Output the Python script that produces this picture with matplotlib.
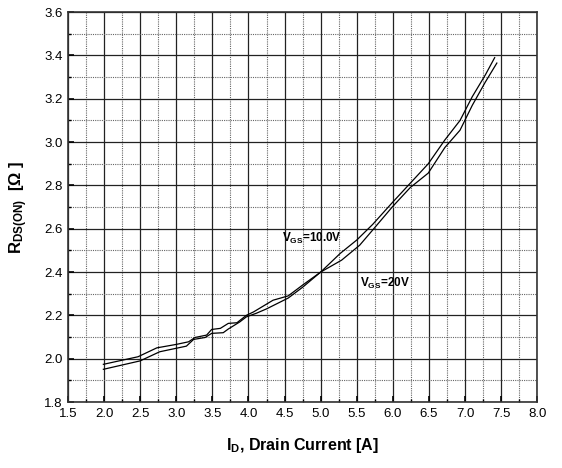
import numpy as np
import matplotlib
matplotlib.use("Agg")
import matplotlib.pyplot as plt
from matplotlib.ticker import MultipleLocator, FormatStrFormatter

plt.rcParams["font.family"] = ["Liberation Sans", "DejaVu Sans"]
plt.rcParams["mathtext.fontset"] = "custom"
plt.rcParams["mathtext.rm"] = "Liberation Sans:bold"
plt.rcParams["mathtext.it"] = "Liberation Sans:bold"

# drain current [A] and on-resistance [ohm]
id_10v = [1.99, 2.47, 2.73, 3.00, 3.17, 3.26, 3.42, 3.49, 3.61, 3.72, 3.84, 3.97, 4.07,
          4.34, 4.55, 4.75, 5.00, 5.27, 5.50, 5.72, 5.99, 6.24, 6.49, 6.72, 6.93, 7.10,
          7.28, 7.41]
rds_10v = [1.974, 2.009, 2.050, 2.066, 2.078, 2.098, 2.109, 2.135, 2.140, 2.163, 2.166,
           2.200, 2.216, 2.270, 2.290, 2.340, 2.400, 2.486, 2.548, 2.620, 2.720, 2.810,
           2.900, 3.010, 3.100, 3.210, 3.310, 3.390]

id_20v = [1.99, 2.50, 2.77, 3.14, 3.24, 3.40, 3.49, 3.65, 3.72, 3.88, 3.97, 4.11, 4.25,
          4.55, 4.75, 5.00, 5.29, 5.54, 5.72, 5.99, 6.24, 6.49, 6.72, 6.93, 7.10, 7.28,
          7.44]
rds_20v = [1.951, 1.990, 2.032, 2.058, 2.089, 2.098, 2.117, 2.120, 2.137, 2.170, 2.193,
           2.210, 2.230, 2.280, 2.330, 2.400, 2.455, 2.524, 2.594, 2.700, 2.790, 2.857,
           2.975, 3.055, 3.170, 3.277, 3.365]

fig = plt.figure(figsize=(5.62, 4.68), dpi=100)
ax = fig.add_axes([0.121, 0.141, 0.835, 0.833])

ax.plot(id_10v, rds_10v, color="black", lw=0.9)
ax.plot(id_20v, rds_20v, color="black", lw=0.9)

ax.set_xlim(1.5, 8.0)
ax.set_ylim(1.8, 3.6)
ax.xaxis.set_major_locator(MultipleLocator(0.5))
ax.xaxis.set_minor_locator(MultipleLocator(0.25))
ax.yaxis.set_major_locator(MultipleLocator(0.2))
ax.yaxis.set_minor_locator(MultipleLocator(0.1))
ax.xaxis.set_major_formatter(FormatStrFormatter("%.1f"))
ax.yaxis.set_major_formatter(FormatStrFormatter("%.1f"))

ax.grid(which="major", color="#222222", lw=0.9, ls="-")
ax.grid(which="minor", color="#666666", lw=0.8, ls=(0, (1, 1)))
ax.set_axisbelow(True)
ax.tick_params(which="both", direction="in", labelsize=9.5, pad=4)
ax.tick_params(which="major", length=4, width=1.2)
ax.tick_params(which="minor", length=2.5, width=1)
for s in ax.spines.values():
    s.set_color("#333333")
    s.set_linewidth(1.2)

ax.set_xlabel(r"$\mathregular{I_D}$, Drain Current [A]", fontsize=11.5,
              fontweight="bold", labelpad=12)
ax.set_ylabel(r"$\mathregular{R_{DS(ON)}}$  [$\Omega$ ]", fontsize=12,
              fontweight="bold", labelpad=10)

ax.text(4.47, 2.54, r"$\mathregular{V_{GS}}$=10.0V", fontsize=8.5, fontweight="bold")
ax.text(5.55, 2.33, r"$\mathregular{V_{GS}}$=20V", fontsize=8.5, fontweight="bold")

fig.savefig("out.png", dpi=100)
